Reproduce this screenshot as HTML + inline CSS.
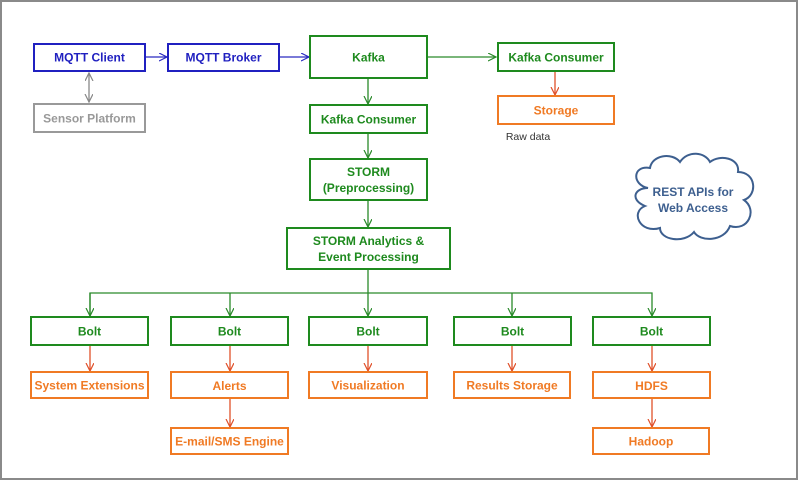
<!DOCTYPE html>
<html><head><meta charset="utf-8"><style>
html,body{margin:0;padding:0;background:#fff;}
svg{display:block;}
text{font-family:"Liberation Sans",sans-serif;font-weight:bold;font-size:12px;text-anchor:middle;}
</style></head><body>
<svg width="799" height="481" viewBox="0 0 799 481" xmlns="http://www.w3.org/2000/svg">
<rect x="1" y="1" width="796" height="478" fill="#fff" stroke="#8a8a8a" stroke-width="2"/>
<defs>
<marker id="ab" markerWidth="10" markerHeight="10" refX="8" refY="4" orient="auto" markerUnits="userSpaceOnUse"><path d="M0,0 L8,4 L0,8" fill="none" stroke="#2a2ac0" stroke-width="1.2"/></marker>
<marker id="ag" markerWidth="10" markerHeight="10" refX="8" refY="4" orient="auto" markerUnits="userSpaceOnUse"><path d="M0,0 L8,4 L0,8" fill="none" stroke="#2a8a2a" stroke-width="1.2"/></marker>
<marker id="ao" markerWidth="10" markerHeight="10" refX="8" refY="4" orient="auto" markerUnits="userSpaceOnUse"><path d="M0,0 L8,4 L0,8" fill="none" stroke="#e0502a" stroke-width="1.2"/></marker>
<marker id="ay" markerWidth="10" markerHeight="10" refX="8" refY="4" orient="auto-start-reverse" markerUnits="userSpaceOnUse"><path d="M0,0 L8,4 L0,8" fill="none" stroke="#888" stroke-width="1.2"/></marker>
</defs>
<g fill="none" stroke-width="1.3">
<line x1="145" y1="57" x2="167" y2="57" stroke="#2a2ac0" marker-end="url(#ab)"/>
<line x1="279" y1="57" x2="309" y2="57" stroke="#2a2ac0" marker-end="url(#ab)"/>
<line x1="89" y1="73" x2="89" y2="102" stroke="#888" marker-end="url(#ay)" marker-start="url(#ay)"/>
<line x1="427" y1="57" x2="496" y2="57" stroke="#2a8a2a" marker-end="url(#ag)"/>
<line x1="555" y1="71" x2="555" y2="95" stroke="#e0502a" marker-end="url(#ao)"/>
<line x1="368" y1="78" x2="368" y2="104" stroke="#2a8a2a" marker-end="url(#ag)"/>
<line x1="368" y1="133" x2="368" y2="158" stroke="#2a8a2a" marker-end="url(#ag)"/>
<line x1="368" y1="200" x2="368" y2="227" stroke="#2a8a2a" marker-end="url(#ag)"/>
<line x1="368" y1="269" x2="368" y2="293" stroke="#2a8a2a"/>
<polyline points="90,316 90,293 652,293 652,316" stroke="#2a8a2a" marker-end="url(#ag)"/>
<line x1="90" y1="293" x2="90" y2="316" stroke="#2a8a2a" marker-end="url(#ag)"/>
<line x1="230" y1="293" x2="230" y2="316" stroke="#2a8a2a" marker-end="url(#ag)"/>
<line x1="368" y1="293" x2="368" y2="316" stroke="#2a8a2a" marker-end="url(#ag)"/>
<line x1="512" y1="293" x2="512" y2="316" stroke="#2a8a2a" marker-end="url(#ag)"/>
<line x1="90" y1="345" x2="90" y2="371" stroke="#e0502a" marker-end="url(#ao)"/>
<line x1="230" y1="345" x2="230" y2="371" stroke="#e0502a" marker-end="url(#ao)"/>
<line x1="368" y1="345" x2="368" y2="371" stroke="#e0502a" marker-end="url(#ao)"/>
<line x1="512" y1="345" x2="512" y2="371" stroke="#e0502a" marker-end="url(#ao)"/>
<line x1="652" y1="345" x2="652" y2="371" stroke="#e0502a" marker-end="url(#ao)"/>
<line x1="230" y1="398" x2="230" y2="427" stroke="#e0502a" marker-end="url(#ao)"/>
<line x1="652" y1="398" x2="652" y2="427" stroke="#e0502a" marker-end="url(#ao)"/>
</g>
<g fill="#fff" stroke-width="2">
<rect x="34" y="44" width="111" height="27" stroke="#2020c0"/>
<rect x="168" y="44" width="111" height="27" stroke="#2020c0"/>
<rect x="34" y="104" width="111" height="28" stroke="#999"/>
<rect x="310" y="36" width="117" height="42" stroke="#1e8a1e"/>
<rect x="498" y="43" width="116" height="28" stroke="#1e8a1e"/>
<rect x="498" y="96" width="116" height="28" stroke="#f07a24"/>
<rect x="310" y="105" width="117" height="28" stroke="#1e8a1e"/>
<rect x="310" y="159" width="117" height="41" stroke="#1e8a1e"/>
<rect x="287" y="228" width="163" height="41" stroke="#1e8a1e"/>
<rect x="31" y="317" width="117" height="28" stroke="#1e8a1e"/>
<rect x="171" y="317" width="117" height="28" stroke="#1e8a1e"/>
<rect x="309" y="317" width="118" height="28" stroke="#1e8a1e"/>
<rect x="454" y="317" width="117" height="28" stroke="#1e8a1e"/>
<rect x="593" y="317" width="117" height="28" stroke="#1e8a1e"/>
<rect x="31" y="372" width="117" height="26" stroke="#f07a24"/>
<rect x="171" y="372" width="117" height="26" stroke="#f07a24"/>
<rect x="309" y="372" width="118" height="26" stroke="#f07a24"/>
<rect x="454" y="372" width="116" height="26" stroke="#f07a24"/>
<rect x="593" y="372" width="117" height="26" stroke="#f07a24"/>
<rect x="171" y="428" width="117" height="26" stroke="#f07a24"/>
<rect x="593" y="428" width="116" height="26" stroke="#f07a24"/>
</g>
<path d="M648,188 C632,185 632,165 650,168 C652,155 672,152 680,162 C688,150 705,152 710,162 C720,154 740,158 738,172 C756,172 758,195 744,200 C758,210 748,232 730,226 C724,242 700,242 694,232 C684,244 660,240 660,228 C640,234 630,212 645,206 C630,200 634,188 648,188 Z" fill="#fff" stroke="#3d5f8f" stroke-width="2"/>
<g fill="#2020c0"><text x="89.5" y="61.5">MQTT Client</text><text x="223.5" y="61.5">MQTT Broker</text></g>
<text x="89.5" y="122.5" fill="#999">Sensor Platform</text>
<g fill="#1e8a1e">
<text x="368.5" y="61.5">Kafka</text>
<text x="556" y="61.5">Kafka Consumer</text>
<text x="368.5" y="123.5">Kafka Consumer</text>
<text x="368.5" y="176">STORM</text>
<text x="368.5" y="192">(Preprocessing)</text>
<text x="368.5" y="245">STORM Analytics &amp;</text>
<text x="368.5" y="261">Event Processing</text>
<text x="89.5" y="335.5">Bolt</text><text x="229.5" y="335.5">Bolt</text><text x="368" y="335.5">Bolt</text><text x="512.5" y="335.5">Bolt</text><text x="651.5" y="335.5">Bolt</text>
</g>
<g fill="#f07a24">
<text x="556" y="114.5">Storage</text>
<text x="89.5" y="389.5">System Extensions</text>
<text x="229.5" y="390">Alerts</text>
<text x="368" y="389.5">Visualization</text>
<text x="512" y="389.5">Results Storage</text>
<text x="651.5" y="390">HDFS</text>
<text x="229.5" y="445.5">E-mail/SMS Engine</text>
<text x="651" y="445.5">Hadoop</text>
</g>
<text x="528" y="140" fill="#333" style="font-weight:normal;font-size:10.5px">Raw data</text>
<g fill="#3d5f8f"><text x="693" y="196">REST APIs for</text><text x="693" y="212">Web Access</text></g>
</svg>
</body></html>
